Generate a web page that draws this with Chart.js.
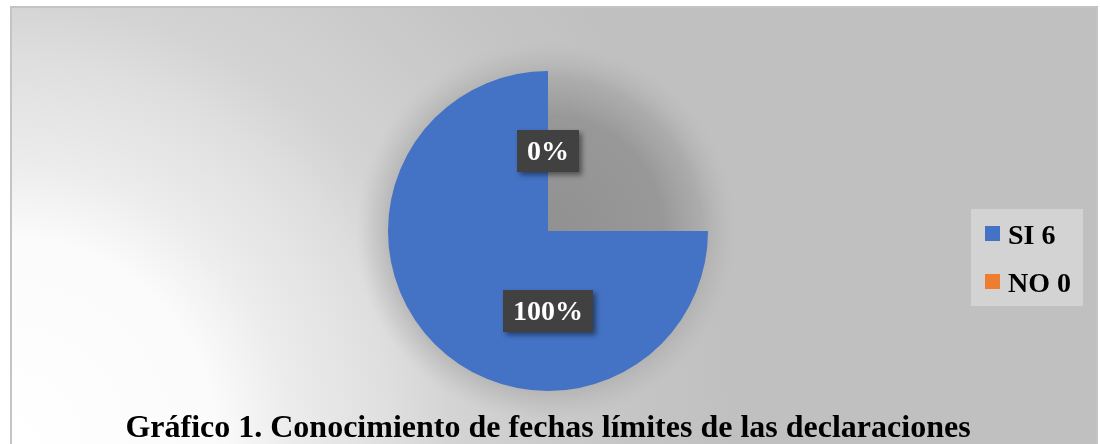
<!DOCTYPE html>
<html>
<head>
<meta charset="utf-8">
<script src="https://cdn.jsdelivr.net/npm/chart.js@4.4.0/dist/chart.umd.min.js"></script>
<style>
  html, body { margin: 0; padding: 0; background: #ffffff; }
  #wrap { width: 1100px; height: 444px; position: relative; }
</style>
</head>
<body>
<div id="wrap"><canvas id="pieChart" width="1100" height="444"></canvas></div>
<script>
// Datos del gráfico
const categorias = ["SI 6", "NO 0"];
const valores = [6, 0];
const etiquetasPct = ["100%", "0%"];
const colores = ["#4472C4", "#ED7D31"];
const titulo = "Gráfico 1. Conocimiento de fechas límites de las declaraciones";

const serif = "'Liberation Serif', 'Times New Roman', serif";

// Fondo del área del gráfico (degradado gris) y sombra del círculo
const fondoPlugin = {
    id: "fondo",
    beforeDraw(chart) {
        const ctx = chart.ctx;
        ctx.save();
        ctx.fillStyle = "#ffffff";
        ctx.fillRect(0, 0, chart.width, chart.height);

        const grad = ctx.createRadialGradient(10, 444, 0, 10, 444, 760);
        grad.addColorStop(0, "#ffffff");
        grad.addColorStop(0.27, "#fbfbfb");
        grad.addColorStop(0.37, "#ececec");
        grad.addColorStop(0.5, "#dfdfdf");
        grad.addColorStop(0.58, "#d4d4d4");
        grad.addColorStop(0.8, "#c6c6c6");
        grad.addColorStop(0.95, "#c0c0c0");
        ctx.fillStyle = grad;
        ctx.fillRect(10, 6, 1088, 440);

        ctx.strokeStyle = "#c4c4c4";
        ctx.lineWidth = 2;
        ctx.strokeRect(11, 7, 1086, 440);

        // sombra suave detrás de la torta
        const arc = chart.getDatasetMeta(0).data[0];
        if (arc) {
            const r = arc.outerRadius;
            const rs = r * 1.2;
            const sh = ctx.createRadialGradient(arc.x, arc.y, 0, arc.x, arc.y, rs);
            sh.addColorStop(0, "rgba(145,145,145,1)");
            sh.addColorStop(0.6, "rgba(152,152,152,1)");
            sh.addColorStop(0.8, "rgba(165,165,165,0.75)");
            sh.addColorStop(0.92, "rgba(180,180,180,0.35)");
            sh.addColorStop(1, "rgba(192,192,192,0)");
            ctx.fillStyle = sh;
            ctx.beginPath();
            ctx.arc(arc.x, arc.y, rs, 0, Math.PI * 2);
            ctx.fill();
        }
        ctx.restore();
    }
};

// Etiquetas de porcentaje, leyenda y título
const extrasPlugin = {
    id: "extras",
    afterDraw(chart) {
        const ctx = chart.ctx;
        const meta = chart.getDatasetMeta(0);
        const arc = meta.data[0];
        const total = valores.reduce((a, b) => a + b, 0);
        ctx.save();

        // etiquetas de datos (posición como en un círculo completo)
        ctx.font = "bold 28px " + serif;
        ctx.textBaseline = "middle";
        ctx.textAlign = "center";
        let acum = 0;
        valores.forEach((v, i) => {
            const frac = v / total;
            const ang = -Math.PI / 2 + 2 * Math.PI * (acum + frac / 2);
            acum += frac;
            const x = arc.x + Math.cos(ang) * arc.outerRadius * 0.5;
            const y = arc.y + Math.sin(ang) * arc.outerRadius * 0.5;
            const w = ctx.measureText(etiquetasPct[i]).width + 20;
            const h = 42;
            ctx.save();
            ctx.shadowColor = "rgba(0,0,0,0.45)";
            ctx.shadowBlur = 5;
            ctx.shadowOffsetX = 3;
            ctx.shadowOffsetY = 3;
            ctx.fillStyle = "#414141";
            ctx.fillRect(x - w / 2, y - h / 2, w, h);
            ctx.restore();
            ctx.fillStyle = "#ffffff";
            ctx.fillText(etiquetasPct[i], x, y + 2);
        });

        // leyenda
        ctx.fillStyle = "#d3d3d3";
        ctx.fillRect(971, 209, 112, 97);
        ctx.textAlign = "left";
        ctx.textBaseline = "alphabetic";
        ctx.font = "bold 28px " + serif;
        categorias.forEach((c, i) => {
            const y = 226 + i * 48;
            ctx.fillStyle = colores[i];
            ctx.fillRect(985, y, 15, 15);
            ctx.fillStyle = "#000000";
            ctx.fillText(c, 1008, y + 18);
        });

        // título
        ctx.font = "bold 32px " + serif;
        ctx.textAlign = "center";
        ctx.fillStyle = "#000000";
        ctx.fillText(titulo, 548, 437);
        ctx.restore();
    }
};

const ctx = document.getElementById("pieChart").getContext("2d");
new Chart(ctx, {
    type: "pie",
    data: {
        labels: categorias,
        datasets: [{
            data: valores,
            backgroundColor: colores,
            borderWidth: 0
        }]
    },
    options: {
        responsive: false,
        animation: false,
        rotation: 90,
        circumference: 270,
        layout: { padding: { left: 388, right: 392, top: 71, bottom: 53 } },
        plugins: {
            legend: { display: false },
            tooltip: { enabled: false }
        },
        events: []
    },
    plugins: [fondoPlugin, extrasPlugin]
});
</script>
</body>
</html>
